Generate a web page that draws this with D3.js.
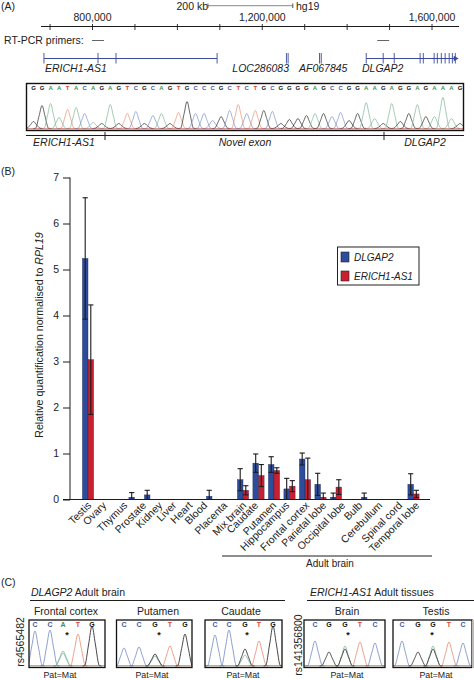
<!DOCTYPE html>
<html><head><meta charset="utf-8">
<script src="https://cdn.jsdelivr.net/npm/d3@7"></script>
<style>html,body{margin:0;padding:0;background:#fff}svg{display:block}text{font-family:"Liberation Sans",Arial,sans-serif;fill:#222}</style>
</head><body><svg id="c" width="474" height="680"></svg>
<script>
// Panel B data
const tissues=["Testis","Ovary","","Thymus","Prostate","Kidney","Liver","Heart","Blood","Placenta","Mix brain","Caudate","Putamen","Hippocampus","Frontal cortex","Parietal lobe","Occipital lobe","","Bulb","Cerebullum","Spinal cord","Temporal lobe"];
const dlgap2=[5.24,0,0,0.05,0.1,0,0,0,0.07,0,0.43,0.79,0.76,0.23,0.88,0.33,0.05,0,0.05,0,0,0.33];
const dlgap2Err=[1.32,0,0,0.1,0.1,0,0,0,0.13,0,0.24,0.2,0.17,0.23,0.13,0.24,0.09,0,0.09,0,0,0.23];
const erich=[3.04,0,0,0,0,0,0,0,0,0,0.2,0.52,0.63,0.29,0.43,0.05,0.27,0,0,0,0,0.12];
const erichErr=[1.19,0,0,0,0,0,0,0,0,0,0.1,0.24,0.06,0.12,0.47,0.09,0.16,0,0,0,0,0.08];
const yTicks=[0,1,2,3,4,5,6,7];
// Panel A data
const genomeTicks=[700000,800000,900000,1000000,1100000,1200000,1300000,1400000,1500000,1600000];
const genomeLabels=[800000,1200000,1600000];
const primers=[[798800,827000],[1471000,1499000]];
const erichExons=[685600,813000,855400,1093600];
const locExons=[1257000,1261000];
const afExons=[1335000,1339000];
const dlgapExons=[1445000,1485000,1511000,1572000,1579500,1605000,1612500,1622000,1631000,1640500,1648000,1655000];
const geneLabels=[["ERICH1-AS1",45,"start"],["LOC286083",289,"end"],["AF067845",299,"start"],["DLGAP2",362,"start"]];
const seqBases="GGAATACAGAGTCGCAGTGCCCGCTCTGCGGGGAGCCGGAAGAGGAGAAAG".split("");
const seqHeights=[7,23,25,11,19,21,15,6,5,24,5,15,17,5,13,15,5,16,27,15,15,8,12,18,24,15,18,18,17,5,9,10,13,15,15,12,16,8,15,26,10,5,25,7,15,24,12,12,31,10,5];
// Panel C data
const panels=[
 {name:"Frontal cortex",snp:"rs4565482",box:[29,105],tc:66,pm:60,star:67,bases:["C","C","A","T","G"],xs:[35,50,63,78,92],hs:[35,36,15,32,40],under:13},
 {name:"Putamen",box:[116.5,192],tc:158,pm:152,star:159,bases:["C","C","G","T","G"],xs:[124,139,155,170,185],hs:[18,19,12,20,32],under:10},
 {name:"Caudate",box:[205,282],tc:241,pm:243,star:247,bases:["C","C","G","T","G"],xs:[215,229,245,259,273],hs:[31,36,17,25,40],under:11},
 {name:"Brain",snp:"rs141356800",box:[304,385],tc:347,pm:347,star:348,bases:["C","G","G","T","C"],xs:[315,329,345,360,375],hs:[25,14,17,24,23],under:18},
 {name:"Testis",box:[393,472],tc:436,pm:436,star:432,bases:["C","G","G","T","C"],xs:[402,418,433,449,463],hs:[25,14,17,24,23],under:18}
];
const legendItems=["DLGAP2","ERICH1-AS1"];
const traceCol={A:"#86b898",C:"#7f94c8",G:"#333",T:"#ea9478"};
const letterCol={A:"#3f8f58",C:"#46589f",G:"#111",T:"#d2453c"};
const BLUE="#2d4c9c",RED="#c9202f",INK="#1c1c1c";
const labelNudge=[4,3.5,0,-6.5,-3,-2.5,-4,-3.5,-4,.5,4,.5,3,.5,5,6.5,10,0,-4,.5,5,6.5];

const svg=d3.select("#c");
const txt=(x,y,s,o={})=>{const t=svg.append("text").attr("x",x).attr("y",y).attr("font-size",o.size||10.5).attr("text-anchor",o.anchor||"start");
 if(o.italic)t.attr("font-style","italic"); if(o.transform)t.attr("transform",o.transform); t.text(s); return t;};
const rule=(x1,y1,x2,y2,w=1,c=INK)=>svg.append("line").attr("x1",x1).attr("y1",y1).attr("x2",x2).attr("y2",y2).attr("stroke",c).attr("stroke-width",w);

txt(1,10,"(A)");txt(1,175,"(B)");txt(1,586,"(C)");

// ---------- Panel A
const g=d3.scaleLinear().domain([800000,1600000]).range([92.5,432]);
txt(208,9.5,"200 kb",{anchor:"end"});txt(296,9.5,"hg19");
rule(g(1072000),5.7,g(1272000),5.7,1,"#888");
rule(g(1072000),3.5,g(1072000),8,1,"#555");rule(g(1272000),3.5,g(1272000),8,1,"#555");
rule(41,26.5,459,26.5,1);
genomeTicks.forEach(v=>rule(g(v),24,g(v),30,.9));
genomeLabels.forEach(v=>txt(g(v),21,d3.format(",")(v),{anchor:"middle"}));
txt(4,44,"RT-PCR primers:");
primers.forEach(p=>rule(g(p[0]),40.5,g(p[1]),40.5,1,"#666"));
const GENE="#3a4a9c";
[erichExons,dlgapExons].forEach(e=>rule(g(d3.min(e)),58.5,g(d3.max(e)),58.5,1.1,GENE));
[erichExons,locExons,afExons,dlgapExons].forEach(e=>e.forEach(v=>rule(g(v),53,g(v),63.5,.9,GENE)));
svg.append("path").attr("d",d3.symbol(d3.symbolTriangle,14)()).attr("fill",GENE)
 .attr("transform",`translate(${g(1655000)},58.5) rotate(90)`);
geneLabels.forEach(d=>txt(d[1],72,d[0],{italic:true,anchor:d[2]}));

const clip=(id,x,y,w,h)=>svg.append("clipPath").attr("id",id).append("rect").attr("x",x).attr("y",y).attr("width",w).attr("height",h);
const peakPath=(x,h,w)=>[[x-w-2,0],[x-w,.3],[x-w*.45,h*.55],[x,h],[x+w*.45,h*.55],[x+w,.3],[x+w+2,0]];
const peakLine=d3.line().x(d=>d[0]).y(d=>d[1]).curve(d3.curveMonotoneX);
function peak(cid,x,h,w,base,col,sw){
 svg.append("path").attr("clip-path",`url(#${cid})`).attr("fill","none").attr("stroke",col).attr("stroke-width",sw)
  .attr("d",peakLine(peakPath(x,h,w).map(d=>[d[0],base-d[1]])));
}
clip("seq",27,84,436,46);
const sx=d3.scalePoint().domain(d3.range(seqBases.length)).range([33.5,460]);
seqBases.forEach((b,i)=>peak("seq",sx(i),seqHeights[i],6.5,128.5,traceCol[b],.75));
seqBases.forEach((b,i)=>txt(sx(i),89.5,b,{size:6,anchor:"middle"}).style("fill",letterCol[b]).attr("font-weight","bold"));
rule(27,128.8,463,128.8,.7,"#a33");
svg.append("rect").attr("x",26.5).attr("y",83.5).attr("width",437).attr("height",47).attr("fill","none").attr("stroke","#111").attr("stroke-width",1.4);
rule(26,135.5,464,135.5,1);
rule(105,132,105,140,1);rule(384,132,384,140,1);
txt(64,146,"ERICH1-AS1",{italic:true,anchor:"middle"});
txt(245,146,"Novel exon",{italic:true,anchor:"middle"});
txt(425,146,"DLGAP2",{italic:true,anchor:"middle"});

// ---------- Panel B
const x=d3.scaleBand().domain(d3.range(tissues.length)).range([80.25,421.25]);
const y=d3.scaleLinear().domain([0,7]).range([499.5,177.5]);
const bw=5.6;
const axisY=svg.append("g").attr("transform","translate(70,0)").call(d3.axisLeft(y).tickValues(yTicks).tickSize(7).tickPadding(4).tickFormat(d3.format("d")));
axisY.select(".domain").attr("d","M0,177.5V499.5").attr("stroke",INK);
axisY.selectAll("line").attr("stroke",INK);
axisY.selectAll("text").attr("font-size",10.5).attr("font-family",null).style("font-family",'"Liberation Sans",Arial,sans-serif');
const title=svg.append("text").attr("transform","translate(43,335) rotate(-90)").attr("text-anchor","middle").attr("font-size",10.6);
title.append("tspan").text("Relative quantification normalised to ");
title.append("tspan").attr("font-style","italic").text("RPL19");
function series(vals,errs,col,off){
 const pos=i=>x(i)+x.bandwidth()/2+off;
 const idx=d3.range(vals.length).filter(i=>vals[i]>0);
 svg.append("g").selectAll("rect").data(idx).join("rect")
  .attr("x",i=>pos(i)-bw/2).attr("width",bw).attr("y",i=>y(vals[i])).attr("height",i=>y(0)-y(vals[i]))
  .attr("fill",col).attr("stroke","#1d2a55").attr("stroke-width",.4);
 idx.forEach(i=>{
  const hi=y(vals[i]+errs[i]),lo=y(Math.max(0,vals[i]-errs[i]));
  rule(pos(i),hi,pos(i),lo,1.1,"#1a1a1a");
  rule(pos(i)-2.6,hi,pos(i)+2.6,hi,1.1,"#1a1a1a");
  rule(pos(i)-2.6,lo,pos(i)+2.6,lo,1,"#1a1a1a");
 });
}
series(dlgap2,dlgap2Err,BLUE,-2.8);
series(erich,erichErr,RED,2.8);
rule(63,499.5,430,499.5,1.1);
tissues.forEach((t,i)=>{ if(!t)return;
 const px=x(i)+x.bandwidth()/2+labelNudge[i], py=506;
 txt(px,py,t,{size:10.5,anchor:"end",transform:`rotate(-45 ${px} ${py})`});
});
rule(222,556,432,556,1.1);
txt(330,567,"Adult brain",{size:10,anchor:"middle"});
svg.append("rect").attr("x",337.5).attr("y",247).attr("width",81.5).attr("height",38).attr("fill","#fff").attr("stroke","#222").attr("stroke-width",1);
legendItems.forEach((s,i)=>{
 svg.append("rect").attr("x",341).attr("y",252+i*19).attr("width",8).attr("height",10).attr("fill",i?RED:BLUE).attr("stroke","#222").attr("stroke-width",.6);
 txt(354,261+i*19,s,{size:10,italic:true});
});

// ---------- Panel C
const hd=txt(31,596,"",{});hd.append("tspan").attr("font-style","italic").text("DLAGP2");hd.append("tspan").text(" Adult brain");
const hd2=txt(310,596,"",{});hd2.append("tspan").attr("font-style","italic").text("ERICH1-AS1");hd2.append("tspan").text(" Adult tissues");
rule(30,600.5,285,600.5,1);rule(307,600.5,474,600.5,1);
panels.forEach((p,k)=>{
 const id="p"+k,[a,b]=p.box,base=666;
 clip(id,a,620,b-a,47);
 txt(p.tc,615,p.name,{anchor:"middle"});
 p.bases.forEach((c,i)=>{
  if(i===2)peak(id,p.xs[i],p.under+(k>2?2:0),7.2,base,"#86b898",.8);
  peak(id,p.xs[i],p.hs[i],7.4,base,traceCol[c],.9);
  txt(p.xs[i],627,c,{size:7,anchor:"middle"}).style("fill",letterCol[c]).attr("font-weight","bold");
 });
 rule(a,665.8,b,665.8,.7,"#7a5a3a");
 txt(p.star,638,"*",{size:9,anchor:"middle"}).attr("font-weight","bold").style("fill","#111");
 svg.append("rect").attr("x",a).attr("y",620).attr("width",b-a).attr("height",47.5).attr("fill","none").attr("stroke","#111").attr("stroke-width",1.3);
 txt(p.pm,678,"Pat=Mat",{size:8.8,anchor:"middle"});
 if(p.snp){const px=k?302:24,py=k?645:642;txt(px,py,p.snp,{size:10.5,anchor:"middle",transform:`rotate(-90 ${px} ${py})`});}
});
rule(473,620,473,668,2,"#bbb");
</script></body></html>
